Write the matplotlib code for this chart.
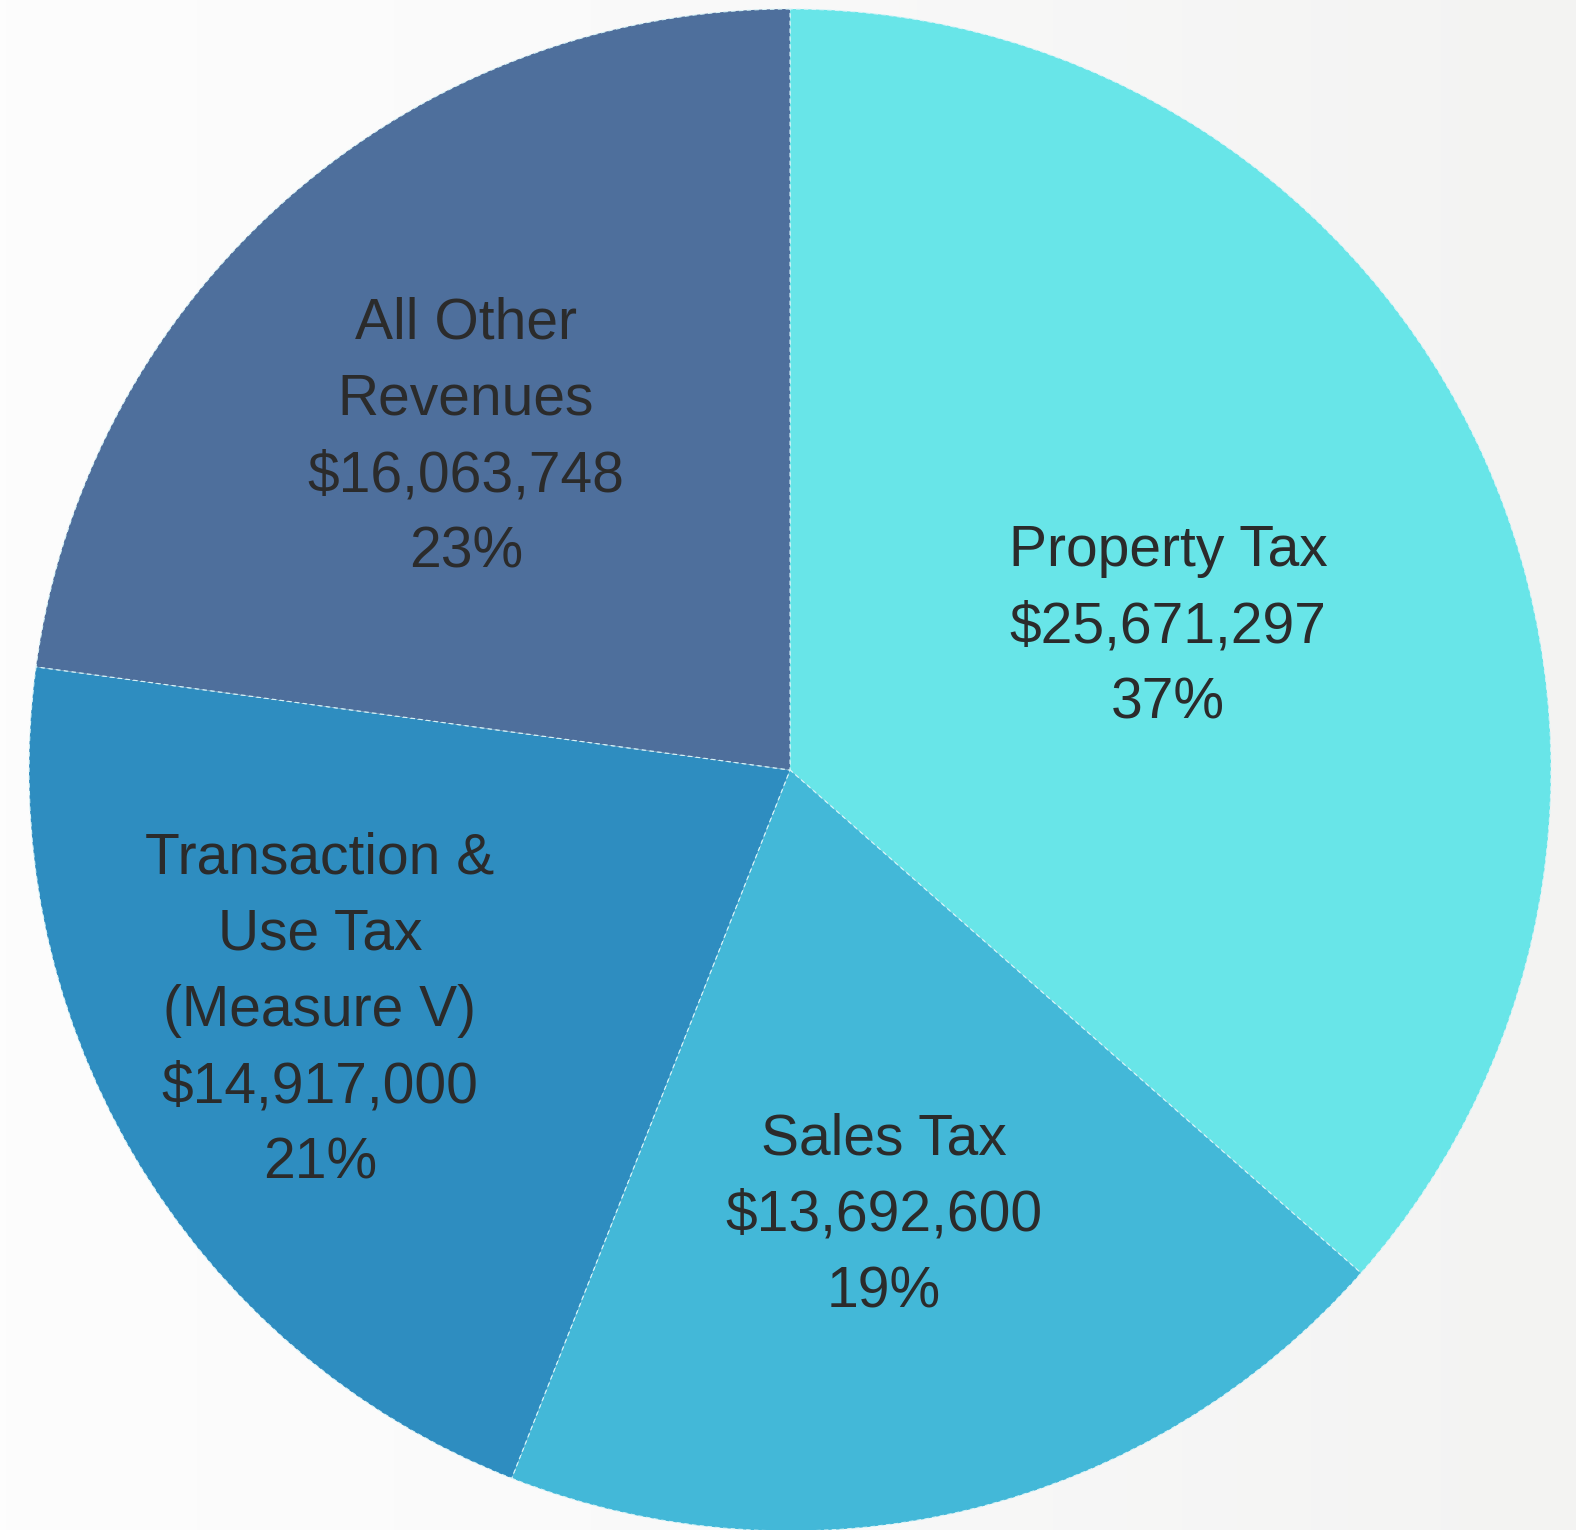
import matplotlib
matplotlib.use('Agg')
import matplotlib.pyplot as plt
import numpy as np

# 데이터
categories = ['Property Tax', 'Sales Tax', 'Transaction &\nUse Tax\n(Measure V)', 'All Other\nRevenues']
amounts = [25671297, 13692600, 14917000, 16063748]
percents = ['37%', '19%', '21%', '23%']
colors = ['#68E5E8', '#43B8D8', '#2E8DC0', '#4E6F9C']

# 라벨 위치 (픽셀, 아래에서 위로)
label_xy = [(1168, 903), (884, 314), (320, 519), (466, 1092)]

W, H = 1576, 1530
fig = plt.figure(figsize=(W / 100, H / 100), dpi=100)
ax = fig.add_axes([0, 0, 1, 1])

# 배경 그라데이션
grad = np.linspace(0, 1, 256)[None, :]
bg = matplotlib.colors.LinearSegmentedColormap.from_list('bg', ['#fdfdfd', '#f9f9f9', '#f3f3f2'])
ax.imshow(grad, cmap=bg, extent=(0, W, 0, H), aspect='auto', zorder=0)

ax.pie(amounts, colors=colors, startangle=90, counterclock=False,
       center=(790, 760), radius=761, frame=True,
       wedgeprops=dict(edgecolor='#d8f4f8', linewidth=0.8, linestyle=(0, (4, 3)), zorder=1))
ax.set_xlim(0, W)
ax.set_ylim(0, H)
ax.set_aspect('auto')
ax.axis('off')

for (x, y), cat, amt, pct in zip(label_xy, categories, amounts, percents):
    ax.text(x, y, f'{cat}\n${amt:,}\n{pct}', ha='center', va='center',
            family='Liberation Sans', fontsize=41, color='#2b2b2b',
            linespacing=1.53, zorder=3)

fig.savefig('out.png', dpi=100)
